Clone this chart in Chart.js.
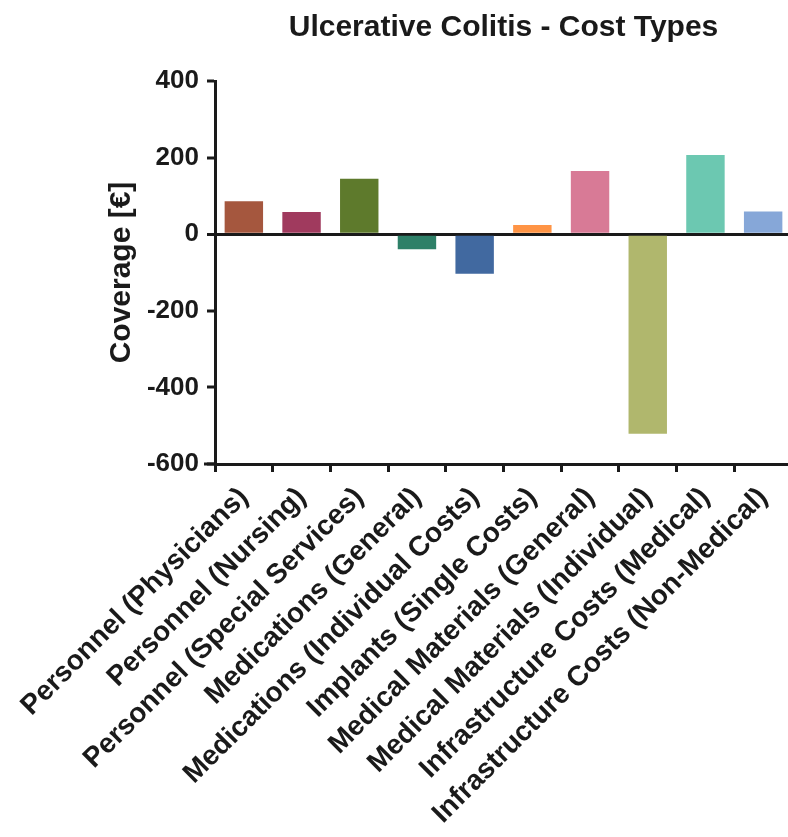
<!DOCTYPE html>
<html>
<head>
<meta charset="utf-8">
<script src="https://cdn.jsdelivr.net/npm/chart.js@4"></script>
<style>
  html, body { margin: 0; padding: 0; background: #fff; overflow: hidden; }
  #wrap { width: 800px; height: 837px; }
</style>
</head>
<body>
<div id="wrap"><canvas id="chart"></canvas></div>
<script>
// Cost types and coverage values (EUR)
const costTypes = [
    'Personnel (Physicians)',
    'Personnel (Nursing)',
    'Personnel (Special Services)',
    'Medications (General)',
    'Medications (Individual Costs)',
    'Implants (Single Costs)',
    'Medical Materials (General)',
    'Medical Materials (Individual)',
    'Infrastructure Costs (Medical)',
    'Infrastructure Costs (Non-Medical)'
];
const coverage = [86, 58, 145, -39, -103, 24, 165, -521, 207, 59];
const barColors = [
    '#a5573e', '#a03a5e', '#5e7a2c', '#2e8068', '#4169a0',
    '#ff9445', '#d87a96', '#b0b76d', '#6cc8b1', '#86a7d8'
];
const yTicks = [-600, -400, -200, 0, 200, 400];

const ink = '#1a1a1a';
const fontFamily = '"Liberation Sans", Arial, sans-serif';

// x axis line sticks out a little to the left of the y axis, like the original
const axisStub = {
    id: 'axisStub',
    afterDraw(chart) {
        const { ctx, chartArea } = chart;
        const y = chart.scales.y.getPixelForValue(-600);
        ctx.save();
        ctx.strokeStyle = ink;
        ctx.lineWidth = 3;
        ctx.beginPath();
        ctx.moveTo(chartArea.left - 11, y);
        ctx.lineTo(chartArea.left, y);
        ctx.stroke();
        ctx.restore();
    }
};

const ctx = document.getElementById('chart');
new Chart(ctx, {
    type: 'bar',
    data: {
        labels: costTypes,
        datasets: [{
            data: coverage,
            backgroundColor: barColors,
            borderWidth: 0,
            barPercentage: 0.666,
            categoryPercentage: 1.0
        }]
    },
    plugins: [axisStub],
    options: {
        responsive: true,
        maintainAspectRatio: false,
        animation: false,
        layout: { padding: { left: 100, right: 8, top: 0, bottom: 0 } },
        plugins: {
            legend: { display: false },
            tooltip: { enabled: false },
            title: {
                display: true,
                text: 'Ulcerative Colitis - Cost Types',
                fullSize: false,
                color: ink,
                font: { family: fontFamily, size: 30, weight: 'bold' },
                padding: { top: 10, bottom: 35 }
            }
        },
        scales: {
            x: {
                grid: { display: true, drawOnChartArea: false, tickLength: 8, tickWidth: 3, tickColor: ink },
                border: { display: true, color: ink, width: 3 },
                ticks: {
                    color: ink,
                    autoSkip: false,
                    maxRotation: 45,
                    minRotation: 45,
                    padding: 9,
                    font: { family: fontFamily, size: 28, weight: 'bold' }
                },
                afterFit: (scale) => { scale.height = 373; }
            },
            y: {
                min: -600,
                max: 400,
                z: 1,
                afterBuildTicks: (scale) => { scale.ticks = yTicks.map(v => ({ value: v })); },
                grid: {
                    color: (c) => (c.tick && c.tick.value === 0 ? ink : 'rgba(0,0,0,0)'),
                    lineWidth: (c) => (c.tick && c.tick.value === 0 ? 3 : 0),
                    tickColor: ink,
                    tickLength: 8,
                    tickWidth: 3
                },
                border: { display: true, color: ink, width: 3 },
                ticks: {
                    color: ink,
                    padding: 8,
                    font: { family: fontFamily, size: 26, weight: 'bold' }
                },
                title: {
                    display: true,
                    text: 'Coverage [€]',
                    color: ink,
                    font: { family: fontFamily, size: 30, weight: 'bold' }
                },
                afterFit: (scale) => { scale.width = 115; }
            }
        }
    }
});
</script>
</body>
</html>
